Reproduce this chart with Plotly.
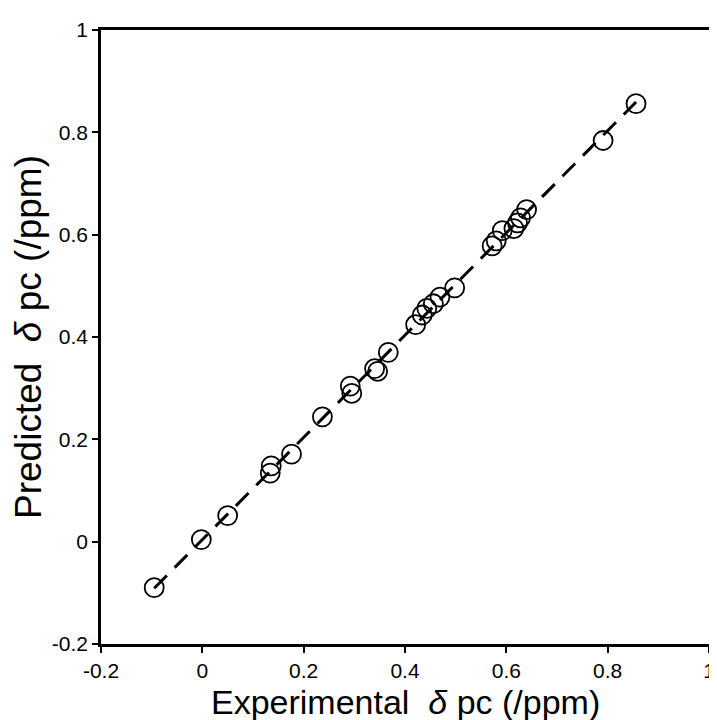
import numpy as np
import plotly.graph_objects as go

# Experimental vs predicted delta pc (ppm)
experimental = [-0.095, -0.002, 0.050, 0.134, 0.136, 0.176, 0.237, 0.292, 0.295,
                0.340, 0.346, 0.367, 0.421, 0.434, 0.443, 0.456, 0.469, 0.498,
                0.572, 0.580, 0.592, 0.615, 0.622, 0.628, 0.640, 0.791, 0.856]
predicted = [-0.090, 0.004, 0.051, 0.134, 0.148, 0.171, 0.244, 0.304, 0.290,
             0.338, 0.333, 0.370, 0.424, 0.443, 0.456, 0.465, 0.478, 0.496,
             0.578, 0.588, 0.608, 0.612, 0.623, 0.633, 0.649, 0.784, 0.856]

tick_vals = [-0.2, 0, 0.2, 0.4, 0.6, 0.8, 1]
tick_text = ["-0.2", "0", "0.2", "0.4", "0.6", "0.8", "1"]

x_title = "Experimental  <i>δ</i> pc (/ppm)"
y_title = "Predicted  <i>δ</i> pc (/ppm)"

# regression line through the data
slope, intercept = np.polyfit(experimental, predicted, 1)
fit_x = [min(experimental), max(experimental)]
fit_y = [slope * v + intercept for v in fit_x]

fig = go.Figure()
fig.add_trace(go.Scatter(
    x=fit_x, y=fit_y, mode="lines",
    line=dict(color="black", width=3, dash="18px,11px"),
    hoverinfo="skip", showlegend=False))
fig.add_trace(go.Scatter(
    x=experimental, y=predicted, mode="markers",
    marker=dict(symbol="circle-open", size=19, color="black",
                line=dict(width=1.8, color="black")),
    showlegend=False))

font_family = "Liberation Sans, Arial, Helvetica, sans-serif"
axis_common = dict(
    range=[-0.2, 1], tickvals=tick_vals, ticktext=tick_text,
    showgrid=False, zeroline=False, showline=True, mirror=True,
    linecolor="black", linewidth=2.5, ticks="outside", ticklen=6,
    tickwidth=2, tickcolor="black",
    tickfont=dict(family=font_family, size=21, color="black"),
)

fig.update_layout(
    width=717, height=720,
    margin=dict(l=93, r=10, t=15, b=84),
    paper_bgcolor="white", plot_bgcolor="white",
    xaxis=dict(**axis_common),
    yaxis=dict(**axis_common,
               title=dict(text=y_title,
                          font=dict(family=font_family, size=37, color="black"),
                          standoff=6)),
    annotations=[dict(text=x_title, xref="paper", yref="paper",
                      x=0.5, y=-0.094, xanchor="center", yanchor="middle",
                      showarrow=False,
                      font=dict(family=font_family, size=34, color="black"))],
)

fig.write_html("out.html")
